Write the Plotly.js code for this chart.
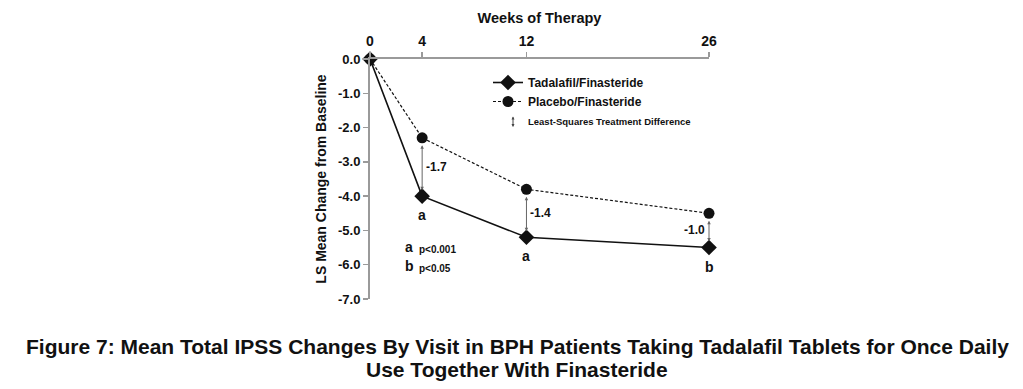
<!DOCTYPE html>
<html>
<head>
<meta charset="utf-8">
<script src="https://cdn.plot.ly/plotly-3.0.1.min.js"></script>
<style>html,body{margin:0;padding:0;background:#fff;}#chart{width:1023px;height:389px;}</style>
</head>
<body>
<div id="chart"></div>
<script>
// ---- data ----
const weeks = [0, 4, 12, 26];
const weekLabels = ['0', '4', '12', '26'];
const tadalafil = [0.0, -4.0, -5.2, -5.5];
const placebo = [0.0, -2.3, -3.8, -4.5];
const diffLabels = ['', '-1.7', '-1.4', '-1.0'];
const sigLetters = ['', 'a', 'a', 'b'];
const yTickVals = [0, -1, -2, -3, -4, -5, -6, -7];
const yTickText = ['0.0', '-1.0', '-2.0', '-3.0', '-4.0', '-5.0', '-6.0', '-7.0'];
const sigKey = [['a', 'p<0.001'], ['b', 'p<0.05']];
const seriesNames = ['Tadalafil/Finasteride', 'Placebo/Finasteride', 'Least-Squares Treatment Difference'];
const captionLines = [
  'Figure 7: Mean Total IPSS Changes By Visit in BPH Patients Taking Tadalafil Tablets for Once Daily',
  'Use Together With Finasteride'
];

// ---- layout helpers ----
const W = 1023, H = 389;
const M = {l: 370, r: 314, t: 59, b: 90};
const PW = W - M.l - M.r, PH = H - M.t - M.b;
const px = x => (x - M.l) / PW;
const py = y => (H - M.b - y) / PH;
const FONT = 'Liberation Sans, Arial, sans-serif';
const INK = '#111111';
const AXIS = '#9a9a9a';

const traces = [
  {
    x: weeks, y: tadalafil, name: seriesNames[0], mode: 'lines+markers',
    line: {color: INK, width: 1.6},
    marker: {symbol: 'diamond', size: 12, color: INK},
    cliponaxis: false
  },
  {
    x: weeks, y: placebo, name: seriesNames[1], mode: 'lines+markers',
    line: {color: INK, width: 1.2, dash: '3px,2px'},
    marker: {symbol: 'circle', size: 11, color: INK},
    cliponaxis: false
  },
  {
    x: [null], y: [null], name: '<span style="font-size:9.5px">' + seriesNames[2] + '</span>',
    mode: 'markers', marker: {symbol: 'circle', size: 1, color: 'rgba(0,0,0,0)'}
  }
];

const annotations = [];
for (let i = 1; i < weeks.length; i++) {
  // double-headed difference arrow
  annotations.push({
    x: weeks[i], y: tadalafil[i], ax: weeks[i], ay: placebo[i],
    xref: 'x', yref: 'y', axref: 'x', ayref: 'y',
    text: '', showarrow: true, arrowside: 'end+start',
    arrowhead: 2, arrowsize: 0.7, arrowwidth: 1, arrowcolor: '#666',
    standoff: 6, startstandoff: 6
  });
  const right = i < weeks.length - 1;
  annotations.push({
    x: weeks[i], y: (tadalafil[i] + placebo[i]) / 2, xref: 'x', yref: 'y',
    text: diffLabels[i], showarrow: false,
    xanchor: right ? 'left' : 'right', xshift: right ? 2 : -2,
    font: {family: FONT, size: 12, color: INK, weight: 'bold'}
  });
  annotations.push({
    x: weeks[i], y: tadalafil[i], xref: 'x', yref: 'y',
    text: sigLetters[i], showarrow: false, yshift: -19,
    font: {family: FONT, size: 14, color: INK, weight: 'bold'}
  });
}
// significance key
sigKey.forEach((k, j) => {
  annotations.push({
    x: px(403), y: py(257 + 19 * j), xref: 'paper', yref: 'paper',
    text: k[0], showarrow: false, xanchor: 'left',
    font: {family: FONT, size: 14, color: INK, weight: 'bold'}
  });
  annotations.push({
    x: px(417), y: py(257 + 19 * j), xref: 'paper', yref: 'paper',
    text: k[1], showarrow: false, xanchor: 'left',
    font: {family: FONT, size: 10, color: INK, weight: 'bold'}
  });
});
// legend arrow symbol
annotations.push({
  x: px(513), y: py(127), xref: 'paper', yref: 'paper',
  ax: 0, ay: -12, text: '', showarrow: true, arrowside: 'end+start',
  arrowhead: 2, arrowsize: 0.6, arrowwidth: 1, arrowcolor: '#444'
});
// caption
captionLines.forEach((t, j) => {
  annotations.push({
    x: px(517), y: py(346 + 23 * j), xref: 'paper', yref: 'paper',
    text: t, showarrow: false, xanchor: 'center', yanchor: 'middle',
    font: {family: FONT, size: 21, color: INK, weight: 'bold'}
  });
});

const layout = {
  width: W, height: H,
  margin: M,
  paper_bgcolor: '#ffffff', plot_bgcolor: '#ffffff',
  showlegend: true,
  legend: {
    x: px(488), y: py(68), xanchor: 'left', yanchor: 'top',
    bgcolor: 'rgba(0,0,0,0)', borderwidth: 0,
    font: {family: FONT, size: 12, color: INK, weight: 'bold'},
    tracegroupgap: 0, itemwidth: 30
  },
  xaxis: {
    side: 'top', range: [0, 26], tickvals: weeks, ticktext: weekLabels,
    showgrid: false, zeroline: false, showline: true, linecolor: AXIS, linewidth: 2,
    ticks: 'outside', ticklen: 5, tickcolor: AXIS, tickwidth: 1.5,
    tickfont: {family: FONT, size: 14, color: INK, weight: 'bold'},
    title: {text: 'Weeks of Therapy', font: {family: FONT, size: 14.5, color: INK, weight: 'bold'}, standoff: 6},
    fixedrange: true
  },
  yaxis: {
    range: [-7, 0], tickvals: yTickVals, ticktext: yTickText,
    showgrid: false, zeroline: false, showline: true, linecolor: AXIS, linewidth: 2,
    ticks: 'outside', ticklen: 5, tickcolor: AXIS, tickwidth: 1.5,
    tickfont: {family: FONT, size: 13, color: INK, weight: 'bold'},
    title: {text: 'LS Mean Change from Baseline', font: {family: FONT, size: 14, color: INK, weight: 'bold'}, standoff: 8},
    fixedrange: true
  },
  annotations: annotations
};

Plotly.newPlot('chart', traces, layout, {displayModeBar: false, staticPlot: true});
</script>
</body>
</html>
